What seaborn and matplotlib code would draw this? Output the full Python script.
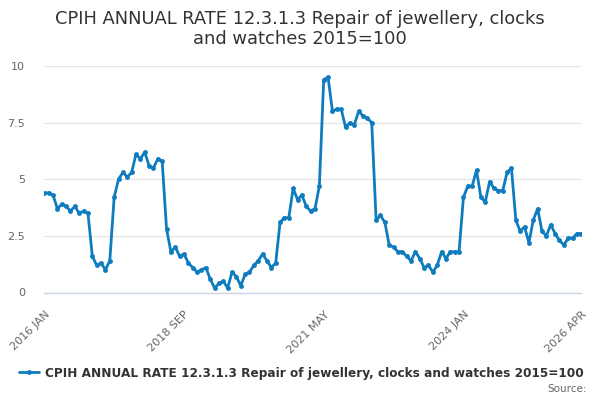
import pandas as pd
import seaborn as sns
import matplotlib.pyplot as plt

# Valores mensais, 2016 JAN .. 2026 APR
rates = [
    4.4, 4.4, 4.3, 3.7, 3.9, 3.8, 3.6, 3.8, 3.5, 3.6, 3.5, 1.6,
    1.2, 1.3, 1.0, 1.4, 4.2, 5.0, 5.3, 5.1, 5.3, 6.1, 5.9, 6.2,
    5.6, 5.5, 5.9, 5.8, 2.8, 1.8, 2.0, 1.6, 1.7, 1.3, 1.1, 0.9,
    1.0, 1.1, 0.6, 0.2, 0.4, 0.5, 0.2, 0.9, 0.7, 0.3, 0.8, 0.9,
    1.2, 1.4, 1.7, 1.4, 1.1, 1.3, 3.1, 3.3, 3.3, 4.6, 4.1, 4.3,
    3.8, 3.6, 3.7, 4.7, 9.4, 9.5, 8.0, 8.1, 8.1, 7.3, 7.5, 7.4,
    8.0, 7.8, 7.7, 7.5, 3.2, 3.4, 3.1, 2.1, 2.0, 1.8, 1.8, 1.6,
    1.4, 1.8, 1.5, 1.1, 1.2, 0.9, 1.2, 1.8, 1.5, 1.8, 1.8, 1.8,
    4.2, 4.7, 4.7, 5.4, 4.2, 4.0, 4.9, 4.6, 4.5, 4.5, 5.3, 5.5,
    3.2, 2.7, 2.9, 2.2, 3.2, 3.7, 2.7, 2.5, 3.0, 2.6, 2.3, 2.1,
    2.4, 2.4, 2.6, 2.6,
]
months = list(range(len(rates)))
tick_pos = [0, 32, 64, 96, 123]
tick_labels = ['2016 JAN', '2018 SEP', '2021 MAY', '2024 JAN', '2026 APR']
series_name = 'CPIH ANNUAL RATE 12.3.1.3 Repair of jewellery, clocks and watches 2015=100'

df = pd.DataFrame({'month': months, 'rate': rates})

sns.set_style('white')
plt.rcParams['font.family'] = ['DejaVu Sans']

fig = plt.figure(figsize=(6, 4), dpi=100)
ax = fig.add_axes([44.3 / 600, 1 - 292.5 / 400, 537 / 600, 226.5 / 400])

cor = '#0f7cc0'
sns.lineplot(data=df, x='month', y='rate', ax=ax, color=cor, linewidth=2,
             marker='o', markersize=3.5, markeredgewidth=0, label=series_name)

ax.set_xlim(0, 123)
ax.set_ylim(0, 10)
ax.set_yticks([0, 2.5, 5, 7.5, 10])
ax.set_yticklabels(['0', '2.5', '5', '7.5', '10'])
ax.yaxis.grid(True, color='#e6e6e6', linewidth=1)
ax.set_axisbelow(True)

# ticks menores a cada 8 meses, com rótulos nos principais
minor = [m for m in range(0, 121, 8) if m not in tick_pos]
ax.set_xticks(tick_pos)
ax.set_xticklabels(tick_labels, rotation=45, ha='right', rotation_mode='anchor')
ax.set_xticks(minor, minor=True)
ax.tick_params(axis='x', which='both', length=9, width=1, color='#ccd6eb',
               labelsize=8, labelcolor='#666666', direction='out', pad=3)
ax.tick_params(axis='y', length=0, labelsize=8, labelcolor='#666666', pad=14)

for s in ['top', 'right', 'left']:
    ax.spines[s].set_visible(False)
ax.spines['bottom'].set_color('#ccd6eb')
ax.spines['bottom'].set_linewidth(1)
ax.set_xlabel('')
ax.set_ylabel('')

leg = ax.legend(loc='center', bbox_to_anchor=(0.502, 1 - 373 / 400), bbox_transform=fig.transFigure,
                frameon=False, handlelength=1.6, handletextpad=0.5,
                prop={'weight': 'bold', 'size': 8.75})
for t in leg.get_texts():
    t.set_color('#333333')

fig.text(0.5, 1 - 29 / 400, 'CPIH ANNUAL RATE 12.3.1.3 Repair of jewellery, clocks\nand watches 2015=100',
         ha='center', va='center', fontsize=12.9, color='#333333', linespacing=1.2)
fig.text(587 / 600, 1 - 389 / 400, 'Source:', ha='right', va='center', fontsize=7.5, color='#666666')

fig.savefig('out.png', dpi=100)
